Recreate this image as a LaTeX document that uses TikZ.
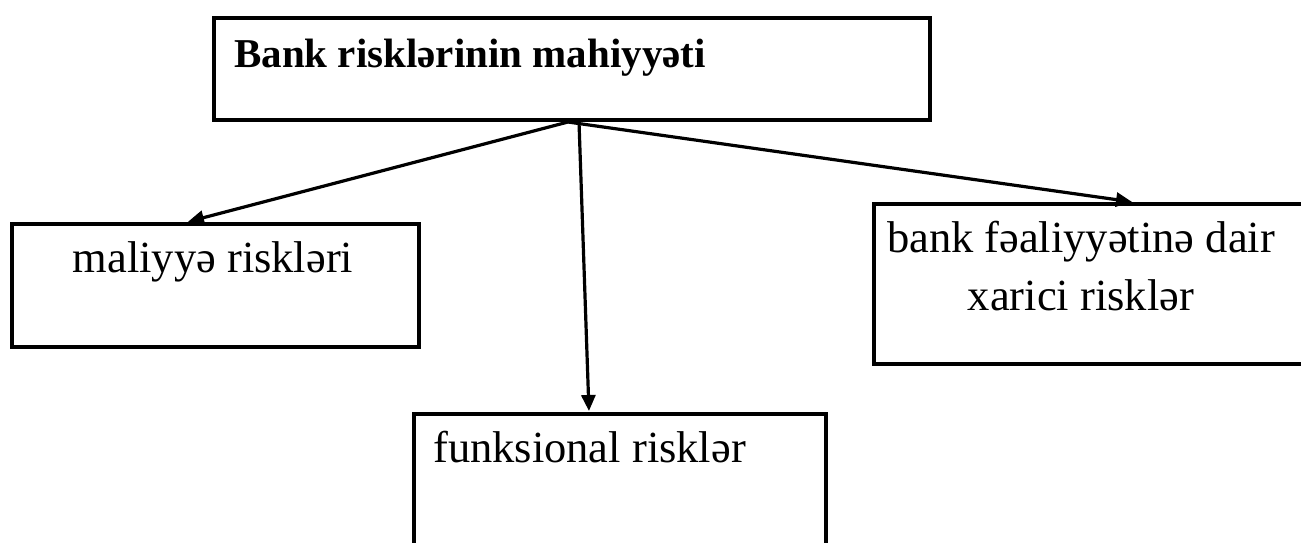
\documentclass[tikz,border=0pt]{standalone}
\usepackage{fontspec}
\setmainfont{Liberation Serif}
\usetikzlibrary{arrows.meta}
\tikzset{
  box/.style={draw=black, line width=3.6pt, inner sep=0pt, anchor=north west},
  lbl/.style={inner sep=0pt, font=\fontsize{44.5}{58}\selectfont},
  ttl/.style={inner sep=0pt, font=\fontsize{41}{50}\bfseries\selectfont},
  conn/.style={line width=3.2pt, -{Triangle[length=16pt,width=14pt]}, shorten >=1pt}
}
\begin{document}
\begin{tikzpicture}[x=1pt,y=-1pt]
\clip (0,0) rectangle (1301,542);
\fill[white] (0,0) rectangle (1301,542);
% boxes
\node[box, minimum width=716pt, minimum height=102pt] (top) at (212,16) {};
\node[box, minimum width=407pt, minimum height=123pt] (left) at (10,222) {};
\node[box, minimum width=460pt, minimum height=160pt] (right) at (872,202) {};
\node[box, minimum width=412pt, minimum height=150pt] (bottom) at (412,412) {};
% texts
\node[ttl, anchor=base west] (ttop) at (234,67) {Bank risklərinin mahiyyəti};
\node[lbl, anchor=base] (tleft) at (213,272) {maliyyə riskləri};
\node[lbl, anchor=base, align=center] (tright) at (1081,310) {bank fəaliyyətinə dair\\xarici risklər};
\node[lbl, anchor=base west] (tbottom) at (433,462) {funksional risklər};
% connector points
\coordinate (apex) at (568,122);
\coordinate (apexv) at (579,122);
\coordinate (eleft) at (187,222);
\coordinate (eright) at (1133,202);
\coordinate (ebottom) at (589,412);
\draw[conn] (apex) -- (eleft);
\draw[conn] (apex) -- (eright);
\draw[conn] (apexv) -- (ebottom);
\end{tikzpicture}
\end{document}
